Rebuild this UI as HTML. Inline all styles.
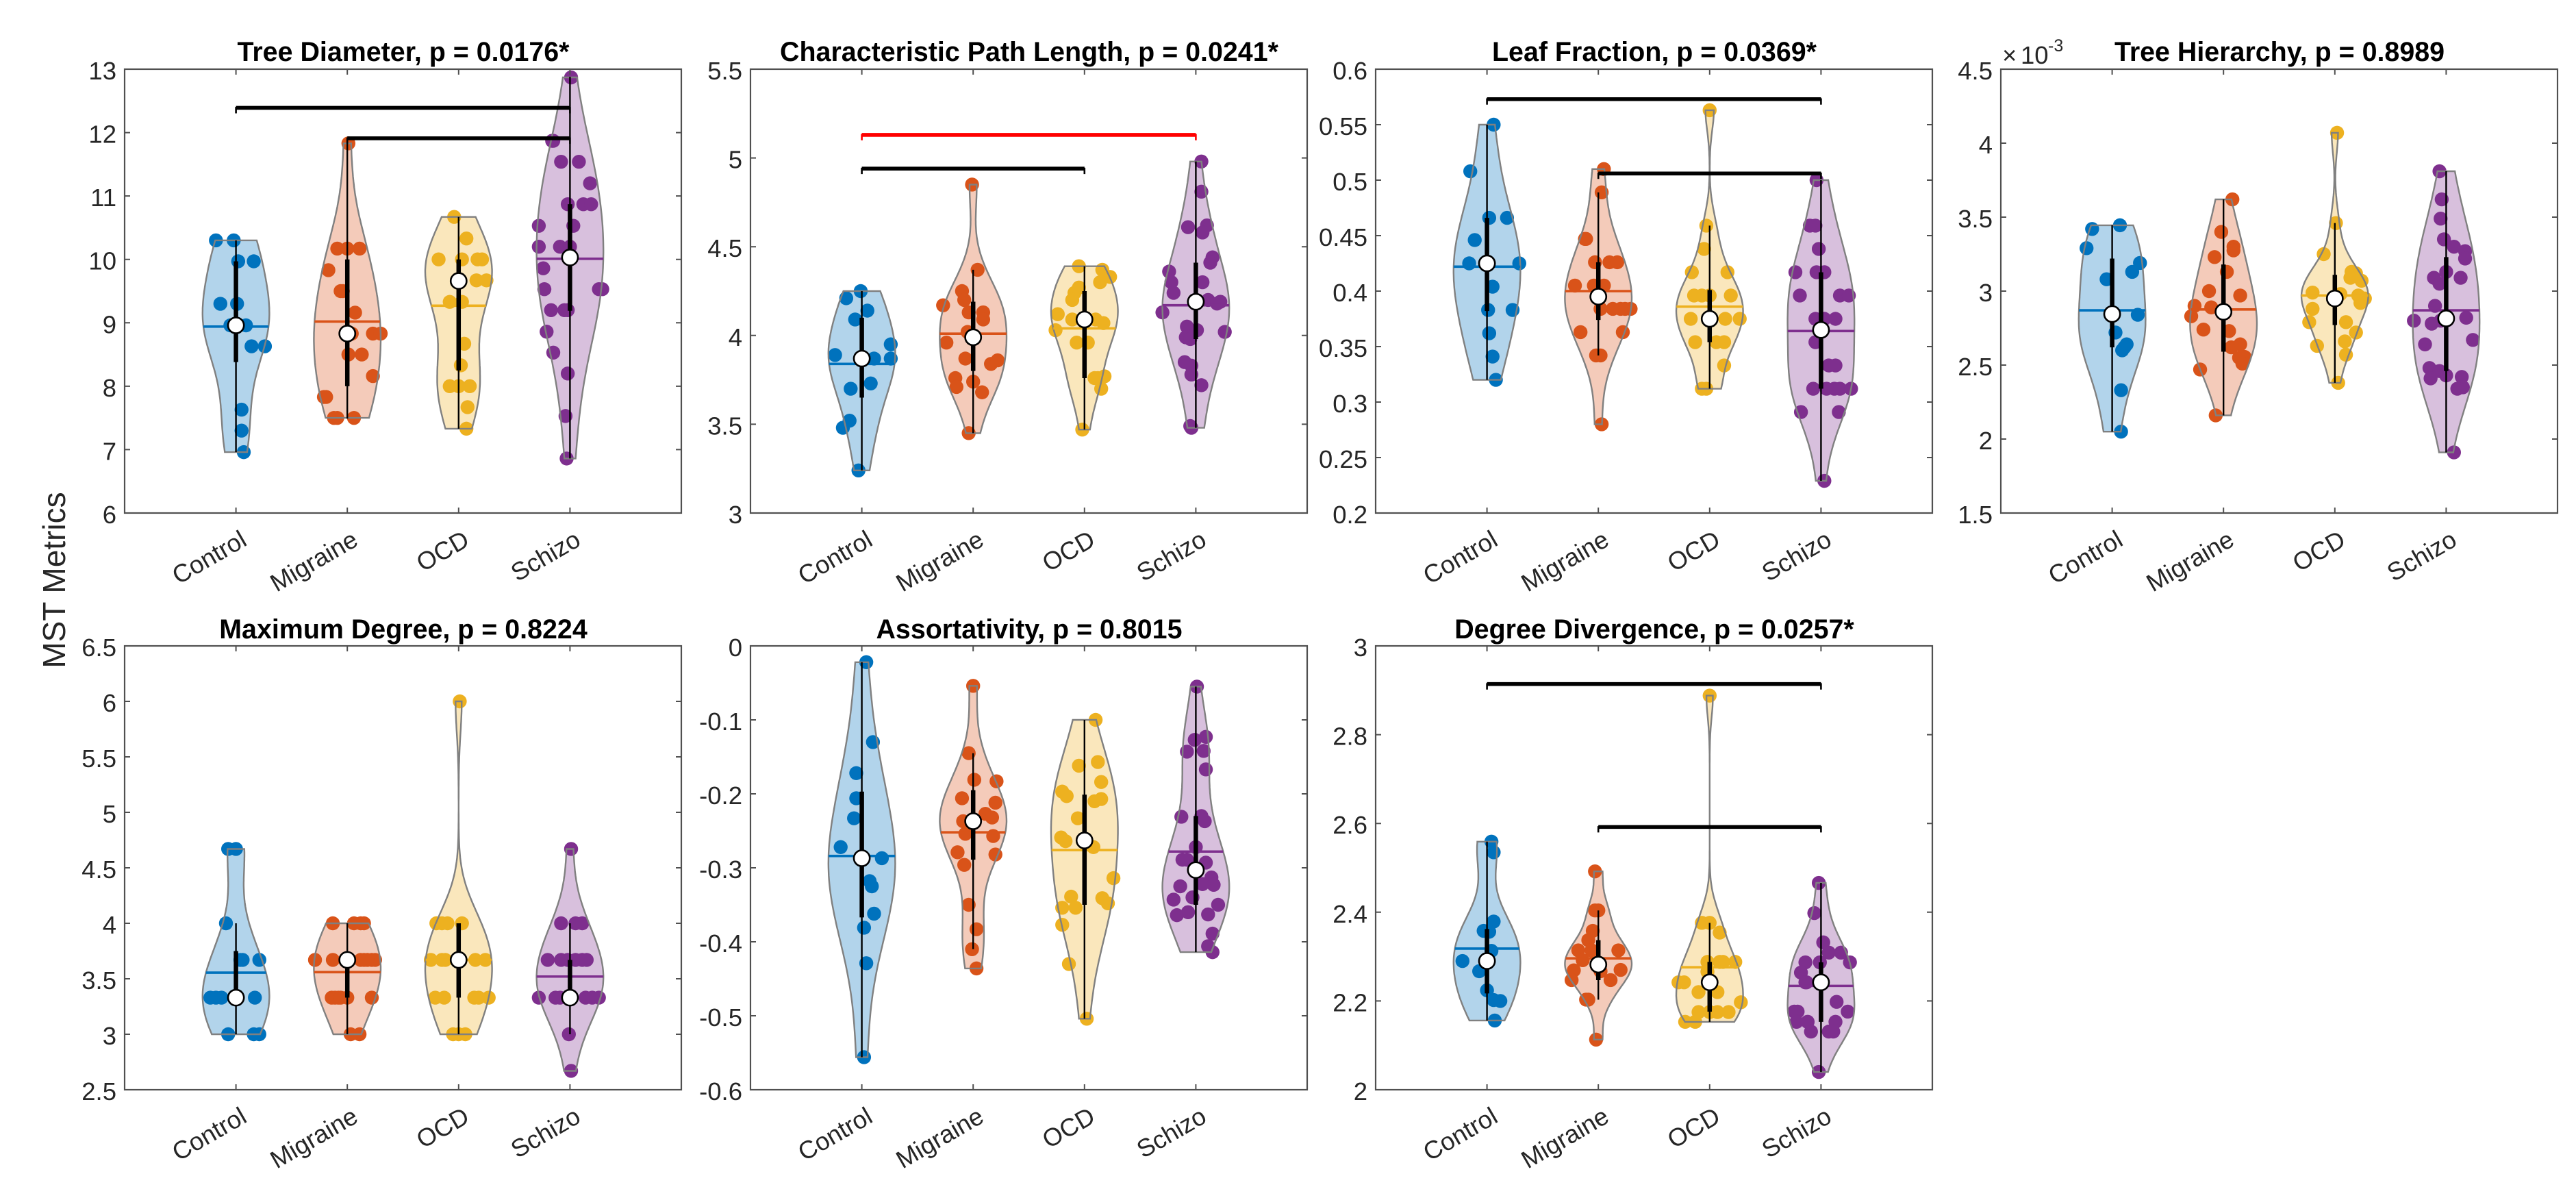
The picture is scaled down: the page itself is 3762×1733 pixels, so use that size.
<!DOCTYPE html>
<html lang="en">
<head>
<meta charset="utf-8">
<title>MST Metrics Violin Plots</title>
<style>
html,body{margin:0;padding:0;background:#fff;}
svg{display:block;font-family:"Liberation Sans",Arial,sans-serif;}
.title{font-size:39.4px;font-weight:bold;fill:#000;text-anchor:middle;}
.tick-text{font-size:36.5px;fill:#262626;}
.frame{fill:none;stroke:#505050;stroke-width:2.2;}
</style>
</head>
<body>
<svg id="figure" xmlns="http://www.w3.org/2000/svg" width="3762" height="1733" viewBox="0 0 3762 1733">
  <rect width="3762" height="1733" fill="#ffffff"/>
  <text x="95" y="847" transform="rotate(-90 95 847)" text-anchor="middle" font-size="46" fill="#262626">MST Metrics</text>

  <g id="panel-0">
    <text class="title" x="589" y="89">Tree Diameter, p = 0.0176*</text>
  </g>
  <g id="panel-1">
    <text class="title" x="1503" y="89">Characteristic Path Length, p = 0.0241*</text>
  </g>
  <g id="panel-2">
    <text class="title" x="2416" y="89">Leaf Fraction, p = 0.0369*</text>
  </g>
  <g id="panel-3">
    <text class="title" x="3329" y="89">Tree Hierarchy, p = 0.8989</text>
    <text class="tick-text" x="2924" y="93">×</text>
    <text class="tick-text" x="2951" y="93">10</text>
    <text class="tick-text" x="2991" y="75" style="font-size:25px">-3</text>
  </g>
  <g id="panel-4">
    <text class="title" x="589" y="932">Maximum Degree, p = 0.8224</text>
  </g>
  <g id="panel-5">
    <text class="title" x="1503" y="932">Assortativity, p = 0.8015</text>
  </g>
  <g id="panel-6">
    <text class="title" x="2416" y="932">Degree Divergence, p = 0.0257*</text>
  </g>
</svg>

<script>
// ---------- shared data ----------
const categories = ['Control', 'Migraine', 'OCD', 'Schizo'];
const seriesColors = ['#0072BD', '#D95319', '#EDB120', '#7E2F8E'];

// ---------- Tree Diameter ----------
const diameterTicks = [6, 7, 8, 9, 10, 11, 12, 13];
const diameterTickLabels = ['6', '7', '8', '9', '10', '11', '12', '13'];
const diameterValues = [
  [10.3,10.3,9.97,9.97,9.3,9.3,8.96,8.96,8.96,8.63,8.63,7.63,7.3,6.96],
  [11.83,10.17,10.17,10.17,9.83,9.5,9.5,9.16,8.83,8.83,8.83,8.83,8.5,8.5,8.16,7.83,7.83,7.5,7.5,7.5],
  [10.67,10.33,10,10,10,10,9.67,9.67,9.67,9.33,9.33,8.67,8.33,8,8,8,7.67,7.33],
  [12.87,11.87,11.87,11.54,11.54,11.2,10.87,10.87,10.87,10.53,10.53,10.2,10.2,10.2,9.86,9.53,9.53,9.53,9.2,9.2,9.2,8.86,8.53,8.2,7.53,6.86]
];
const diameterJitter = [
  [-.18,-.02,.02,.16,-.14,.01,-.05,0,.09,.14,.26,.05,.05,.07],
  [.01,-.09,0,.11,-.17,-.06,-.04,.07,.04,.23,.30,0,.01,.13,.23,-.21,-.19,-.12,-.09,.06],
  [-.04,.07,-.18,.03,.17,.21,.16,.25,0,-.08,.03,.05,.02,-.08,0,.10,.08,.07],
  [.01,-.16,-.15,-.08,.08,.18,-.02,.12,.19,-.28,.03,-.28,-.09,0,-.24,-.23,.26,.29,-.17,-.05,-.02,-.21,-.15,-.02,-.04,-.03]
];
const diameterMeans = [8.94, 9.02, 9.27, 10.01];
const diameterMedians = [8.96, 8.83, 9.66, 10.03];
const diameterQ1 = [8.38, 8.0, 8.25, 9.19];
const diameterQ3 = [9.97, 10, 10, 10.87];
const diameterWhiskerLow = [6.96, 7.49, 7.33, 6.86];
const diameterWhiskerHigh = [10.3, 11.86, 10.67, 12.88];
const diameterBrackets = [[1, 4, 12.39, '#000000'], [2, 4, 11.91, '#000000']];

// ---------- Characteristic Path Length ----------
const pathTicks = [3, 3.5, 4, 4.5, 5, 5.5];
const pathTickLabels = ['3', '3.5', '4', '4.5', '5', '5.5'];
const pathValues = [
  [4.25,4.21,4.14,4.09,3.95,3.89,3.87,3.87,3.87,3.73,3.70,3.52,3.48,3.24],
  [4.85,4.37,4.25,4.20,4.17,4.13,4.13,4.09,4.02,3.96,3.87,3.84,3.86,3.76,3.71,3.74,3.68,3.45,3.99],
  [4.39,4.37,4.33,4.30,4.27,4.24,4.20,4.12,4.09,4.09,4.07,4.08,4.03,3.96,3.96,3.76,3.77,3.76,3.70,3.47],
  [4.98,4.81,4.61,4.62,4.58,4.44,4.41,4.36,4.30,4.30,4.24,4.20,4.19,4.18,4.13,4.05,4.03,4.02,3.99,3.98,3.85,3.83,3.78,3.72,3.49,3.48]
];
const pathJitter = [
  [-.01,-.14,.05,-.06,.26,-.24,.11,.26,0,.08,-.10,-.11,-.17,-.03],
  [-.01,.04,-.10,-.08,-.27,.09,-.04,.09,-.05,-.24,-.07,.16,.22,-.16,-.15,0,.08,-.04,0],
  [-.05,.16,.23,.14,-.05,-.09,-.11,-.24,-.11,.10,.17,0,-.26,-.07,.03,.09,.18,.12,.15,-.02],
  [.05,.05,-.07,.10,.06,.15,.13,-.24,-.22,.06,-.20,.11,.22,.19,-.30,-.08,.01,.26,-.09,-.05,-.10,-.04,-.04,.05,-.05,-.04]
];
const pathMeans = [3.84, 4.01, 4.04, 4.17];
const pathMedians = [3.87, 3.99, 4.09, 4.19];
const pathQ1 = [3.65, 3.80, 3.76, 3.98];
const pathQ3 = [4.10, 4.19, 4.25, 4.41];
const pathWhiskerLow = [3.24, 3.45, 3.47, 3.48];
const pathWhiskerHigh = [4.25, 4.37, 4.39, 4.98];
const pathBrackets = [[1, 4, 5.13, '#ff0000'], [1, 3, 4.94, '#000000']];

// ---------- Leaf Fraction ----------
const leafTicks = [.2, .25, .3, .35, .4, .45, .5, .55, .6];
const leafTickLabels = ['0.2', '0.25', '0.3', '0.35', '0.4', '0.45', '0.5', '0.55', '0.6'];
const leafValues = [
  [.55,.508,.466,.466,.446,.425,.425,.425,.404,.383,.383,.362,.341,.32],
  [.51,.489,.447,.447,.426,.426,.426,.405,.405,.405,.384,.384,.384,.384,.384,.363,.363,.342,.342,.28],
  [.563,.459,.438,.417,.417,.396,.396,.396,.396,.375,.375,.375,.375,.354,.354,.354,.333,.312,.312],
  [.50,.459,.459,.438,.417,.417,.417,.396,.396,.396,.375,.375,.375,.354,.333,.333,.312,.312,.312,.312,.312,.291,.291,.229,.365]
];
const leafJitter = [
  [.06,-.15,.02,.18,-.11,-.16,.29,0,.05,.01,.23,.02,.05,.08],
  [.05,.03,-.12,-.11,-.03,.10,.17,-.21,-.04,.05,.02,.13,.20,.24,.29,-.16,.22,-.02,.02,.03],
  [0,-.03,-.05,-.16,.16,-.14,-.07,0,.19,-.17,0,.14,.27,-.13,.06,.13,.13,-.07,-.03],
  [-.04,-.10,-.05,-.02,-.23,-.04,.03,-.19,.17,.25,-.05,.03,.13,-.05,.07,.13,-.07,.05,.12,.17,.27,-.18,.16,.03,0]
];
const leafMeans = [.422, .40, .386, .364];
const leafMedians = [.425, .395, .375, .365];
const leafQ1 = [.382, .374, .354, .312];
const leafQ3 = [.466, .426, .401, .417];
const leafWhiskerLow = [.32, .342, .312, .229];
const leafWhiskerHigh = [.55, .489, .459, .50];
const leafBrackets = [[1, 4, .573, '#000000'], [2, 4, .506, '#000000']];

// ---------- Tree Hierarchy (x 10^-3) ----------
const hierarchyTicks = [1.5, 2, 2.5, 3, 3.5, 4, 4.5];
const hierarchyTickLabels = ['1.5', '2', '2.5', '3', '3.5', '4', '4.5'];
const hierarchyValues = [
  [3.445,3.42,3.29,3.19,3.13,3.08,2.84,2.84,2.72,2.64,2.62,2.60,2.33,2.05],
  [3.62,3.40,3.30,3.275,3.23,3.13,3.0,2.97,2.90,2.89,2.83,2.86,2.74,2.73,2.64,2.62,2.55,2.555,2.51,2.47,2.16],
  [4.07,3.46,3.25,3.13,3.12,3.09,3.07,2.99,2.98,2.97,2.95,2.92,2.88,2.79,2.79,2.72,2.66,2.63,2.57,2.38,2.95],
  [3.81,3.62,3.49,3.35,3.30,3.27,3.22,3.13,3.09,3.09,3.05,2.90,2.80,2.78,2.80,2.82,2.67,2.64,2.48,2.46,2.43,2.41,2.42,2.35,2.34,1.91]
];
const hierarchyJitter = [
  [.07,-.18,-.23,.25,.18,-.05,.23,0,.03,.13,.11,.09,.08,.08],
  [.08,-.02,.09,.09,-.08,.03,-.13,.15,-.26,-.11,-.29,0,-.18,.05,.15,.07,.14,.19,.17,-.21,-.07],
  [.02,.01,-.10,.15,.19,.14,.24,-.20,.05,.21,.27,.23,-.20,-.23,.10,.19,.09,-.16,.10,.03,0],
  [-.06,-.04,-.05,-.02,.07,.17,.17,0,-.11,.13,-.06,-.10,-.29,-.13,-.05,.18,.24,-.19,-.15,-.06,0,-.14,.14,.15,.10,.07]
];
const hierarchyMeans = [2.87, 2.876, 2.97, 2.87];
const hierarchyMedians = [2.845, 2.86, 2.95, 2.815];
const hierarchyQ1 = [2.62, 2.59, 2.77, 2.46];
const hierarchyQ3 = [3.22, 3.18, 3.11, 3.23];
const hierarchyWhiskerLow = [2.05, 2.16, 2.38, 1.91];
const hierarchyWhiskerHigh = [3.445, 3.62, 3.46, 3.81];
const hierarchyBrackets = [];

// ---------- Maximum Degree ----------
const degreeTicks = [2.5, 3, 3.5, 4, 4.5, 5, 5.5, 6, 6.5];
const degreeTickLabels = ['2.5', '3', '3.5', '4', '4.5', '5', '5.5', '6', '6.5'];
const degreeValues = [
  [4.67,4.67,4,3.67,3.67,3.67,3.33,3.33,3.33,3.33,3.33,3,3,3],
  [4,4,4,4,3.67,3.67,3.67,3.67,3.67,3.67,3.67,3.67,3.33,3.33,3.33,3.33,3.33,3.33,3,3],
  [6,4,4,4,4,3.67,3.67,3.67,3.67,3.67,3.67,3.33,3.33,3.33,3.33,3.33,3,3,3],
  [4.67,4,4,4,3.67,3.67,3.67,3.67,3.67,3.67,3.33,3.33,3.33,3.33,3.33,3.33,3.33,3,2.67]
];
const degreeJitter = [
  [-.07,0,-.09,.06,.21,.04,-.23,-.18,-.13,0,.17,-.07,.16,.21],
  [-.13,.06,.12,.15,-.29,-.13,0,.15,.22,.25,.12,.18,-.14,-.08,0,.22,-.11,-.06,.03,.11],
  [.01,-.20,-.15,-.10,.03,-.25,-.15,-.12,0,.15,.24,-.21,-.13,.14,.18,.27,-.05,0,.06],
  [.01,-.08,.05,.11,-.20,-.08,-.02,.05,.11,.15,-.28,-.13,-.09,0,.14,.20,.26,-.01,.01]
];
const degreeMeans = [3.555, 3.56, 3.67, 3.52];
const degreeMedians = [3.33, 3.67, 3.67, 3.33];
const degreeQ1 = [3.33, 3.33, 3.33, 3.33];
const degreeQ3 = [3.75, 3.67, 4, 3.67];
const degreeWhiskerLow = [3, 3, 3, 3];
const degreeWhiskerHigh = [4, 4, 4, 4];
const degreeBrackets = [];

// ---------- Assortativity ----------
const assortTicks = [-.6, -.5, -.4, -.3, -.2, -.1, 0];
const assortTickLabels = ['-0.6', '-0.5', '-0.4', '-0.3', '-0.2', '-0.1', '0'];
const assortValues = [
  [-.022,-.13,-.172,-.206,-.233,-.272,-.287,-.287,-.318,-.325,-.362,-.381,-.429,-.556],
  [-.054,-.145,-.181,-.183,-.206,-.212,-.227,-.232,-.237,-.237,-.254,-.257,-.279,-.282,-.296,-.35,-.383,-.41,-.436],
  [-.10,-.157,-.162,-.184,-.197,-.203,-.207,-.21,-.233,-.259,-.264,-.263,-.272,-.314,-.339,-.341,-.348,-.354,-.354,-.377,-.43,-.504],
  [-.055,-.123,-.127,-.142,-.143,-.167,-.231,-.23,-.237,-.272,-.289,-.289,-.293,-.303,-.313,-.322,-.323,-.325,-.34,-.343,-.35,-.36,-.364,-.363,-.389,-.406,-.414]
];
const assortJitter = [
  [.04,.10,-.05,-.05,-.07,-.19,.18,0,.07,.09,.11,.02,.04,.02],
  [0,-.04,.01,.21,-.10,.20,.11,.17,-.09,0,-.07,.18,-.14,.20,-.08,-.04,.03,-.01,.03],
  [.10,.12,-.05,.15,-.20,-.16,.15,.09,-.06,-.21,-.17,0,.08,.26,-.12,.16,.21,-.20,-.08,-.20,-.14,.02],
  [.01,.09,-.01,.07,-.08,.09,-.13,.05,.08,0,-.12,-.08,.09,0,.14,.06,.16,-.14,-.03,-.20,.20,-.07,-.17,.11,.15,.11,.15]
];
const assortMeans = [-.284, -.252, -.276, -.278];
const assortMedians = [-.287, -.237, -.263, -.303];
const assortQ1 = [-.367, -.289, -.35, -.35];
const assortQ3 = [-.197, -.195, -.201, -.23];
const assortWhiskerLow = [-.556, -.41, -.504, -.414];
const assortWhiskerHigh = [-.022, -.145, -.10, -.055];
const assortBrackets = [];

// ---------- Degree Divergence ----------
const divergenceTicks = [2, 2.2, 2.4, 2.6, 2.8, 3];
const divergenceTickLabels = ['2', '2.2', '2.4', '2.6', '2.8', '3'];
const divergenceValues = [
  [2.559,2.535,2.379,2.358,2.356,2.313,2.291,2.29,2.267,2.224,2.202,2.20,2.156],
  [2.492,2.404,2.404,2.358,2.337,2.314,2.314,2.314,2.292,2.282,2.27,2.267,2.269,2.247,2.247,2.203,2.203,2.113],
  [2.888,2.376,2.376,2.354,2.288,2.288,2.288,2.288,2.266,2.242,2.242,2.22,2.22,2.197,2.175,2.175,2.175,2.175,2.153,2.153],
  [2.466,2.398,2.332,2.309,2.309,2.287,2.287,2.287,2.264,2.242,2.242,2.242,2.198,2.176,2.176,2.176,2.153,2.153,2.153,2.131,2.131,2.131,2.04]
];
const divergenceJitter = [
  [.04,.06,.06,-.03,.02,.04,0,-.22,-.07,0,.06,.12,.07],
  [-.03,0,-.03,-.05,-.09,-.18,-.06,.18,-.14,0,.20,.02,-.22,.11,-.24,-.11,-.09,-.02],
  [0,-.07,0,.09,-.02,.09,.12,.23,-.02,-.28,-.23,-.10,.07,.28,-.10,.07,.17,0,-.22,-.13],
  [-.02,-.06,.02,.07,.18,-.14,-.01,.26,-.18,-.14,-.13,0,.14,-.24,-.21,.24,-.22,-.12,.13,-.09,.07,.11,-.02]
];
const divergenceMeans = [2.318, 2.296, 2.276, 2.234];
const divergenceMedians = [2.29, 2.282, 2.242, 2.242];
const divergenceQ1 = [2.217, 2.247, 2.176, 2.153];
const divergenceQ3 = [2.362, 2.337, 2.288, 2.287];
const divergenceWhiskerLow = [2.156, 2.203, 2.153, 2.04];
const divergenceWhiskerHigh = [2.559, 2.404, 2.376, 2.466];
const divergenceBrackets = [[1, 4, 2.914, '#000000'], [2, 4, 2.592, '#000000']];

// ---------- layout ----------
const axisWidth = 813;
const axisHeight = 648;
const xRange = [0, 5];
const violinMaxHalfWidth = 0.3;

const panels = [
  {left: 182,  top: 101, yTicks: diameterTicks, yLabels: diameterTickLabels, values: diameterValues, jitter: diameterJitter, means: diameterMeans, medians: diameterMedians, q1: diameterQ1, q3: diameterQ3, lo: diameterWhiskerLow, hi: diameterWhiskerHigh, brackets: diameterBrackets},
  {left: 1096, top: 101, yTicks: pathTicks, yLabels: pathTickLabels, values: pathValues, jitter: pathJitter, means: pathMeans, medians: pathMedians, q1: pathQ1, q3: pathQ3, lo: pathWhiskerLow, hi: pathWhiskerHigh, brackets: pathBrackets},
  {left: 2009, top: 101, yTicks: leafTicks, yLabels: leafTickLabels, values: leafValues, jitter: leafJitter, means: leafMeans, medians: leafMedians, q1: leafQ1, q3: leafQ3, lo: leafWhiskerLow, hi: leafWhiskerHigh, brackets: leafBrackets},
  {left: 2922, top: 101, yTicks: hierarchyTicks, yLabels: hierarchyTickLabels, values: hierarchyValues, jitter: hierarchyJitter, means: hierarchyMeans, medians: hierarchyMedians, q1: hierarchyQ1, q3: hierarchyQ3, lo: hierarchyWhiskerLow, hi: hierarchyWhiskerHigh, brackets: hierarchyBrackets},
  {left: 182,  top: 943, yTicks: degreeTicks, yLabels: degreeTickLabels, values: degreeValues, jitter: degreeJitter, means: degreeMeans, medians: degreeMedians, q1: degreeQ1, q3: degreeQ3, lo: degreeWhiskerLow, hi: degreeWhiskerHigh, brackets: degreeBrackets},
  {left: 1096, top: 943, yTicks: assortTicks, yLabels: assortTickLabels, values: assortValues, jitter: assortJitter, means: assortMeans, medians: assortMedians, q1: assortQ1, q3: assortQ3, lo: assortWhiskerLow, hi: assortWhiskerHigh, brackets: assortBrackets},
  {left: 2009, top: 943, yTicks: divergenceTicks, yLabels: divergenceTickLabels, values: divergenceValues, jitter: divergenceJitter, means: divergenceMeans, medians: divergenceMedians, q1: divergenceQ1, q3: divergenceQ3, lo: divergenceWhiskerLow, hi: divergenceWhiskerHigh, brackets: divergenceBrackets}
];

const SVGNS = 'http://www.w3.org/2000/svg';
function make(parent, tag, attrs) {
  const el = document.createElementNS(SVGNS, tag);
  for (const k in attrs) el.setAttribute(k, attrs[k]);
  parent.appendChild(el);
  return el;
}

// Kernel density estimate of the plotted points (Gaussian kernel, rule-of-thumb bandwidth)
function median(list) {
  const s = list.slice().sort((a, b) => a - b);
  const m = s.length / 2;
  return s.length % 2 ? s[Math.floor(m)] : (s[m - 1] + s[m]) / 2;
}
function bandwidth(list) {
  const med = median(list);
  const sigma = median(list.map(v => Math.abs(v - med))) / 0.6745;
  return sigma * Math.pow(4 / (3 * list.length), 0.2);
}
function density(list, h, y) {
  let sum = 0;
  for (const v of list) sum += Math.exp(-0.5 * Math.pow((y - v) / h, 2));
  return sum;
}

panels.forEach((panel, index) => {
  const group = document.getElementById('panel-' + index);
  const yMin = panel.yTicks[0];
  const yMax = panel.yTicks[panel.yTicks.length - 1];
  const xScale = c => panel.left + (c - xRange[0]) / (xRange[1] - xRange[0]) * axisWidth;
  const yScale = v => panel.top + axisHeight - (v - yMin) / (yMax - yMin) * axisHeight;
  const bottom = panel.top + axisHeight;
  const right = panel.left + axisWidth;

  // Violins
  categories.forEach((name, c) => {
    const values = panel.values[c];
    const jitter = panel.jitter[c];
    const cx = c + 1;
    const color = seriesColors[c];
    const low = Math.min.apply(null, values);
    const high = Math.max.apply(null, values);
    const h = bandwidth(values);
    let peak = 0;
    for (let i = 0; i <= 100; i++) {
      const y = low + (high - low) * i / 100;
      peak = Math.max(peak, density(values, h, y));
    }
    const halfWidth = y => density(values, h, y) / peak * violinMaxHalfWidth;
    const rightSide = [];
    const leftSide = [];
    for (let i = 0; i <= 100; i++) {
      const y = low + (high - low) * i / 100;
      const w = halfWidth(y);
      rightSide.push(xScale(cx + w).toFixed(1) + ',' + yScale(y).toFixed(1));
      leftSide.unshift(xScale(cx - w).toFixed(1) + ',' + yScale(y).toFixed(1));
    }
    const outline = rightSide.concat(leftSide).join(' ');

    const fill = make(group, 'polygon', {points: outline, fill: color, 'fill-opacity': 0.3, stroke: 'none'});
    
    

    values.forEach((v, i) => {
      const dot = make(group, 'circle', {cx: xScale(cx + jitter[i]), cy: yScale(v), r: 10.2, fill: color});
      
      
    });

    const edge = make(group, 'polygon', {points: outline, fill: 'none', stroke: '#808080', 'stroke-width': 2.4});
    
    

    const mw = halfWidth(panel.means[c]);
    const meanLine = make(group, 'line', {x1: xScale(cx - mw), x2: xScale(cx + mw), y1: yScale(panel.means[c]), y2: yScale(panel.means[c]), stroke: color, 'stroke-width': 3.6});
    
    

    const whisker = make(group, 'line', {x1: xScale(cx), x2: xScale(cx), y1: yScale(panel.lo[c]), y2: yScale(panel.hi[c]), stroke: '#000', 'stroke-width': 2.4});
    
    

    const box = make(group, 'line', {x1: xScale(cx), x2: xScale(cx), y1: yScale(panel.q1[c]), y2: yScale(panel.q3[c]), stroke: '#000', 'stroke-width': 6.5});
    
    

    const med = make(group, 'circle', {cx: xScale(cx), cy: yScale(panel.medians[c]), r: 11.6, fill: '#fff', stroke: '#000', 'stroke-width': 2.6});
    
    
  });

  // Significance brackets
  panel.brackets.forEach(b => {
    const bx1 = xScale(b[0]);
    const bx2 = xScale(b[1]);
    const by = yScale(b[2]);
    const bracket = make(group, 'path', {d: 'M' + bx1 + ' ' + (by + 8) + 'V' + by + 'H' + bx2 + 'V' + (by + 8), fill: 'none', stroke: b[3], 'stroke-width': 2.6});
    
    
    const bar = make(group, 'line', {x1: bx1, x2: bx2, y1: by, y2: by, stroke: b[3], 'stroke-width': 5.6});
    
    
  });

  // Axes box
  const frame = make(group, 'rect', {x: panel.left, y: panel.top, width: axisWidth, height: axisHeight, class: 'frame'});
  
  

  // Y ticks and labels
  panel.yTicks.forEach((t, i) => {
    const y = yScale(t);
    const mark = make(group, 'path', {d: 'M' + panel.left + ' ' + y + 'h8M' + right + ' ' + y + 'h-8', stroke: '#505050', 'stroke-width': 2, fill: 'none'});
    
    
    const label = make(group, 'text', {x: panel.left - 12, y: y + 15, 'text-anchor': 'end', class: 'tick-text'});
    label.textContent = panel.yLabels[i];
    
    
  });

  // X ticks and labels
  categories.forEach((name, c) => {
    const x = xScale(c + 1);
    const mark = make(group, 'path', {d: 'M' + x + ' ' + bottom + 'v-8M' + x + ' ' + panel.top + 'v8', stroke: '#505050', 'stroke-width': 2, fill: 'none'});
    
    
    const lx = x + 18;
    const ly = bottom + 46;
    const label = make(group, 'text', {x: lx, y: ly, 'text-anchor': 'end', class: 'tick-text', transform: 'rotate(-30 ' + lx + ' ' + ly + ')'});
    label.textContent = name;
    
    
  });
});
</script>
</body>
</html>
